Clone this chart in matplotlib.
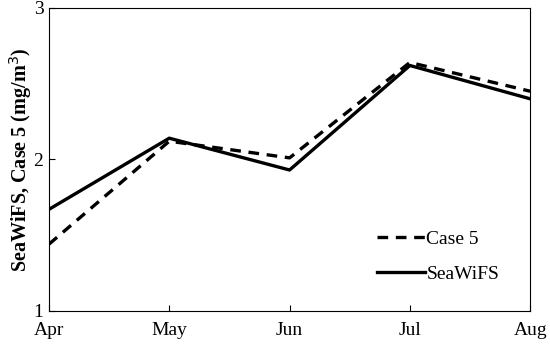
import matplotlib
matplotlib.use('Agg')
import matplotlib.pyplot as plt

months = ['Apr', 'May', 'Jun', 'Jul', 'Aug']
case5 = [1.44, 2.12, 2.01, 2.64, 2.45]
seawifs = [1.67, 2.14, 1.93, 2.62, 2.40]

plt.rcParams['font.family'] = ['Liberation Serif', 'DejaVu Serif']

fig = plt.figure(figsize=(5.5, 3.45), dpi=100)
ax = fig.add_axes([0.089, 0.099, 0.875, 0.878])

x = range(len(months))
ax.plot(x, case5, 'k--', lw=2.4, dashes=(3.2, 2.3), label='Case 5')
ax.plot(x, seawifs, 'k-', lw=2.4, label='SeaWiFS')

ax.set_xlim(0, 4)
ax.set_ylim(1, 3)
ax.set_xticks(list(x))
ax.set_xticklabels(months)
ax.set_yticks([1, 2, 3])
ax.tick_params(direction='in', labelsize=14, length=4, width=0.8)
ax.tick_params(axis='x', pad=8)
ax.tick_params(axis='y', pad=4)
ax.set_ylabel('SeaWiFS, Case 5 (mg/m$^3$)', fontsize=14.5, fontweight='bold', labelpad=0)
for s in ax.spines.values():
    s.set_linewidth(0.8)

ax.legend(loc='lower right', bbox_to_anchor=(0.972, 0.035), frameon=False,
          fontsize=14, handlelength=2.5, handletextpad=0.05, labelspacing=0.9)

fig.savefig('out.png', dpi=100)
